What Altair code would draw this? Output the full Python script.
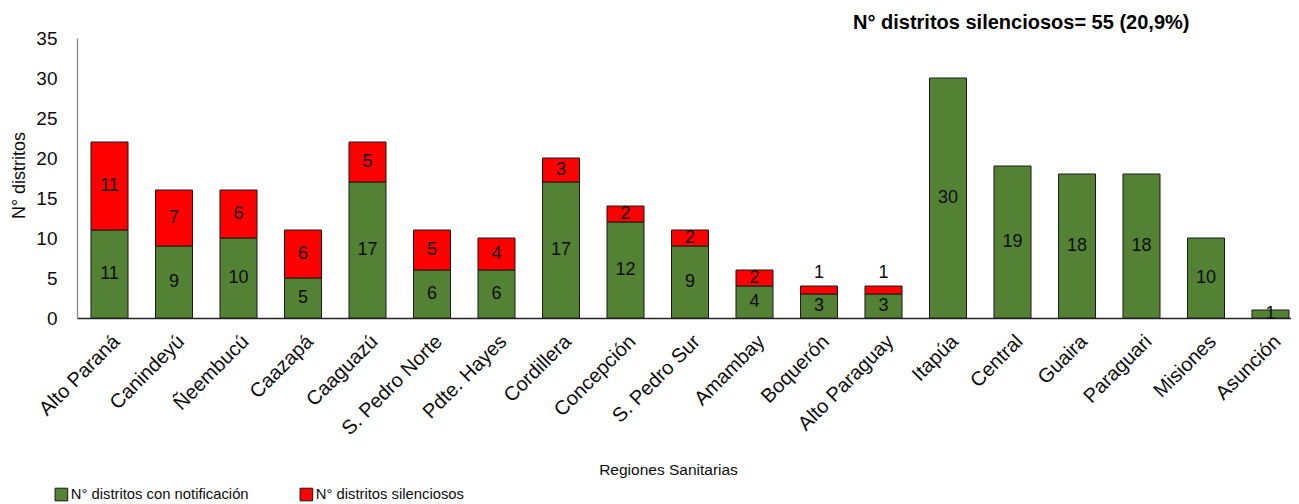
import altair as alt
import pandas as pd

regiones = ["Alto Paraná", "Canindeyú", "Ñeembucú", "Caazapá", "Caaguazú",
            "S. Pedro Norte", "Pdte. Hayes", "Cordillera", "Concepción",
            "S. Pedro Sur", "Amambay", "Boquerón", "Alto Paraguay", "Itapúa",
            "Central", "Guaira", "Paraguari", "Misiones", "Asunción"]
con_notificacion = [11, 9, 10, 5, 17, 6, 6, 17, 12, 9, 4, 3, 3, 30, 19, 18, 18, 10, 1]
silenciosos = [11, 7, 6, 6, 5, 5, 4, 3, 2, 2, 2, 1, 1, 0, 0, 0, 0, 0, 0]
series = ["N° distritos con notificación", "N° distritos silenciosos"]
colores = ["#548235", "#FF0000"]
y_ticks = [0, 5, 10, 15, 20, 25, 30, 35]
titulo = "N° distritos silenciosos= 55 (20,9%)"

rows = []
for r, c, s in zip(regiones, con_notificacion, silenciosos):
    rows.append({"region": r, "serie": series[0], "valor": c, "orden": 0})
    rows.append({"region": r, "serie": series[1], "valor": s, "orden": 1})
df = pd.DataFrame(rows)

FONT = "Liberation Sans"
TXT = "#0d0d0d"

base = (
    alt.Chart(df)
    .transform_filter("datum.valor > 0")
    .transform_stack(stack="valor", groupby=["region"], as_=["y0", "y1"],
                     sort=[alt.SortField("orden", order="ascending")])
    .transform_calculate(ymid="(datum.y0 + datum.y1) / 2")
)

xscale = alt.Scale(paddingInner=0.426, paddingOuter=0.124, align=0.875)
yscale = alt.Scale(domain=[0, 35], nice=False, zero=True)

x_axis = alt.Axis(
    title="Regiones Sanitarias", titleFont=FONT, titleFontSize=15.5, titleFontWeight="normal",
    titleColor=TXT, titleX=591, titleY=151, titleBaseline="middle", titleAlign="center",
    labelFont=FONT, labelFontSize=20, labelColor=TXT, labelAngle=315, labelAlign="right",
    labelBaseline="top", labelPadding=13, ticks=False, tickSize=0,
    domainColor="#262626", domainWidth=1.3, labelOverlap=False, labelLimit=300,
)
y_axis = alt.Axis(
    title="N° distritos", titleFont=FONT, titleFontSize=18, titleFontWeight="normal",
    titleColor=TXT, titleAngle=270, titleX=-49, titleY=137, titleBaseline="bottom",
    titleAlign="center",
    values=y_ticks, labelFont=FONT, labelFontSize=19, labelColor=TXT, labelPadding=20,
    ticks=False, tickSize=0, grid=False, domainColor="#868686", domainWidth=1.3,
)

xenc = alt.X("region:N", sort=regiones, scale=xscale, axis=x_axis)

bars = base.mark_bar(stroke="#1a1a1a", strokeWidth=1).encode(
    x=xenc,
    y=alt.Y("y0:Q", scale=yscale, axis=y_axis),
    y2="y1:Q",
    color=alt.Color(
        "serie:N", scale=alt.Scale(domain=series, range=colores),
        legend=alt.Legend(
            title=None, orient="none", legendX=-23, legendY=449, direction="horizontal",
            symbolType="square", symbolSize=160, symbolStrokeColor="#1a1a1a",
            symbolStrokeWidth=1, labelFont=FONT, labelFontSize=14.8, labelColor=TXT,
            labelOffset=2, columnPadding=49, labelLimit=400,
        ),
    ),
)

inside = base.transform_filter(
    "!(datum.orden == 1 && datum.valor < 2)"
).mark_text(font=FONT, fontSize=18, color=TXT, baseline="middle").encode(
    x=xenc,
    y=alt.Y("ymid:Q", scale=yscale, axis=y_axis),
    text=alt.Text("valor:Q"),
)

outside = base.transform_filter(
    "datum.orden == 1 && datum.valor < 2"
).mark_text(font=FONT, fontSize=18, color=TXT, baseline="bottom", dy=-4).encode(
    x=xenc,
    y=alt.Y("y1:Q", scale=yscale, axis=y_axis),
    text=alt.Text("valor:Q"),
)

chart = (
    alt.layer(bars, inside, outside)
    .properties(
        width=1214, height=280,
        autosize=alt.AutoSizeParams(type="none"),
        padding={"left": 69, "top": 30, "right": 0, "bottom": 186},
        title=alt.TitleParams(
            titulo, anchor="start", dx=843, dy=24, offset=0, font=FONT, fontSize=20,
            fontWeight="bold", color="#000000", baseline="bottom",
        ),
        background="white",
    )
    .configure_view(stroke=None)
)

chart.save("out.html", embed_options={"renderer": "svg", "actions": False})
